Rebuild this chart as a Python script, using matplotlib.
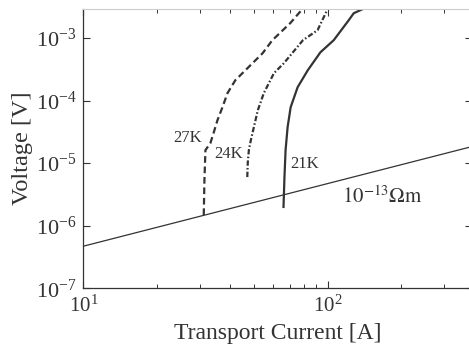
import numpy as np
import matplotlib
matplotlib.use("Agg")
import matplotlib.pyplot as plt
from matplotlib.ticker import LogLocator, NullLocator, NullFormatter

plt.rcParams["font.family"] = ["Liberation Serif", "DejaVu Serif"]
plt.rcParams["mathtext.fontset"] = "stix"

# V-I curves (current in A, voltage in V)
i_27k = [31.1, 31.3, 31.6, 33.1, 34.1, 35.4, 37.1, 38.9, 41.9, 47.4, 54.2, 59.4, 70.3, 78.8]
v_27k = [1.48e-6, 5.36e-6, 1.61e-5, 2.08e-5, 3.0e-5, 4.85e-5, 7.8e-5, 1.31e-4,
         2.11e-4, 3.4e-4, 5.7e-4, 9.2e-4, 1.72e-3, 2.88e-3]

i_24k = [46.9, 47.1, 47.6, 48.5, 49.9, 51.8, 54.8, 60.3, 66.2, 79.3, 91.0, 100.0]
v_24k = [5.98e-6, 1.0e-5, 1.61e-5, 2.33e-5, 3.75e-5, 7.0e-5, 1.31e-4, 2.73e-4,
         3.94e-4, 9.2e-4, 1.33e-3, 2.88e-3]

i_21k = [66.0, 66.6, 67.3, 68.6, 70.6, 75.4, 83.0, 93.5, 106.0, 122.0, 128.0, 139.0]
v_21k = [1.99e-6, 6.0e-6, 1.61e-5, 3.75e-5, 7.8e-5, 1.63e-4, 3.05e-4, 5.9e-4,
         9.2e-4, 1.91e-3, 2.48e-3, 2.88e-3]

# 10^-13 Ohm m criterion line (linear V = R*I)
i_crit = [10.0, 400.0]
r_crit = 4.7e-8
v_crit = [r_crit * i for i in i_crit]

ink = "#333333"

fig = plt.figure(figsize=(4.69, 3.46), dpi=100)
ax = fig.add_axes([0.178, 0.167, 0.828, 0.807])

ax.plot(i_crit, v_crit, color=ink, linewidth=0.9)
ax.plot(i_27k, v_27k, color=ink, linewidth=1.6, linestyle=(0, (3, 1.7)))
ax.plot(i_24k, v_24k, color=ink, linewidth=1.6, linestyle=(0, (2.4, 1, 0.7, 1)))
ax.plot(i_21k, v_21k, color=ink, linewidth=1.6)

ax.set_xscale("log")
ax.set_yscale("log")
ax.set_xlim(10, 390)
ax.set_ylim(1e-7, 2.9e-3)

ax.yaxis.set_major_locator(LogLocator(base=10, numticks=10))
ax.yaxis.set_minor_locator(NullLocator())
ax.xaxis.set_minor_locator(LogLocator(base=10, subs=np.arange(2, 10), numticks=10))
ax.xaxis.set_minor_formatter(NullFormatter())

ax.tick_params(which="both", direction="in", top=True, right=True, colors=ink)
ax.tick_params(which="major", length=5, width=0.8)
ax.tick_params(which="minor", length=3, width=0.7)
ax.tick_params(axis="y", which="major", pad=5, labelsize=16)
ax.tick_params(axis="x", which="major", pad=5, labelsize=15)

for side in ["left", "bottom", "right"]:
    ax.spines[side].set_color(ink)
    ax.spines[side].set_linewidth(0.9)
ax.spines["top"].set_color("#cccccc")
ax.spines["top"].set_linewidth(0.8)

ax.set_xlabel("Transport Current [A]", fontsize=17, color=ink, labelpad=5)
ax.set_ylabel("Voltage [V]", fontsize=17.5, color=ink, labelpad=2)

# curve labels
ax.text(23.3, 2.5e-5, "27K", fontsize=12, color=ink, va="center", ha="left")
ax.text(34.4, 1.39e-5, "24K", fontsize=12, color=ink, va="center", ha="left")
ax.text(70.6, 9.5e-6, "21K", fontsize=12, color=ink, va="center", ha="left")
ax.text(115, 2.9e-6, r"$10^{-13}\Omega\mathrm{m}$", fontsize=15, color=ink,
        va="center", ha="left")

plt.savefig("out.png", dpi=100)
